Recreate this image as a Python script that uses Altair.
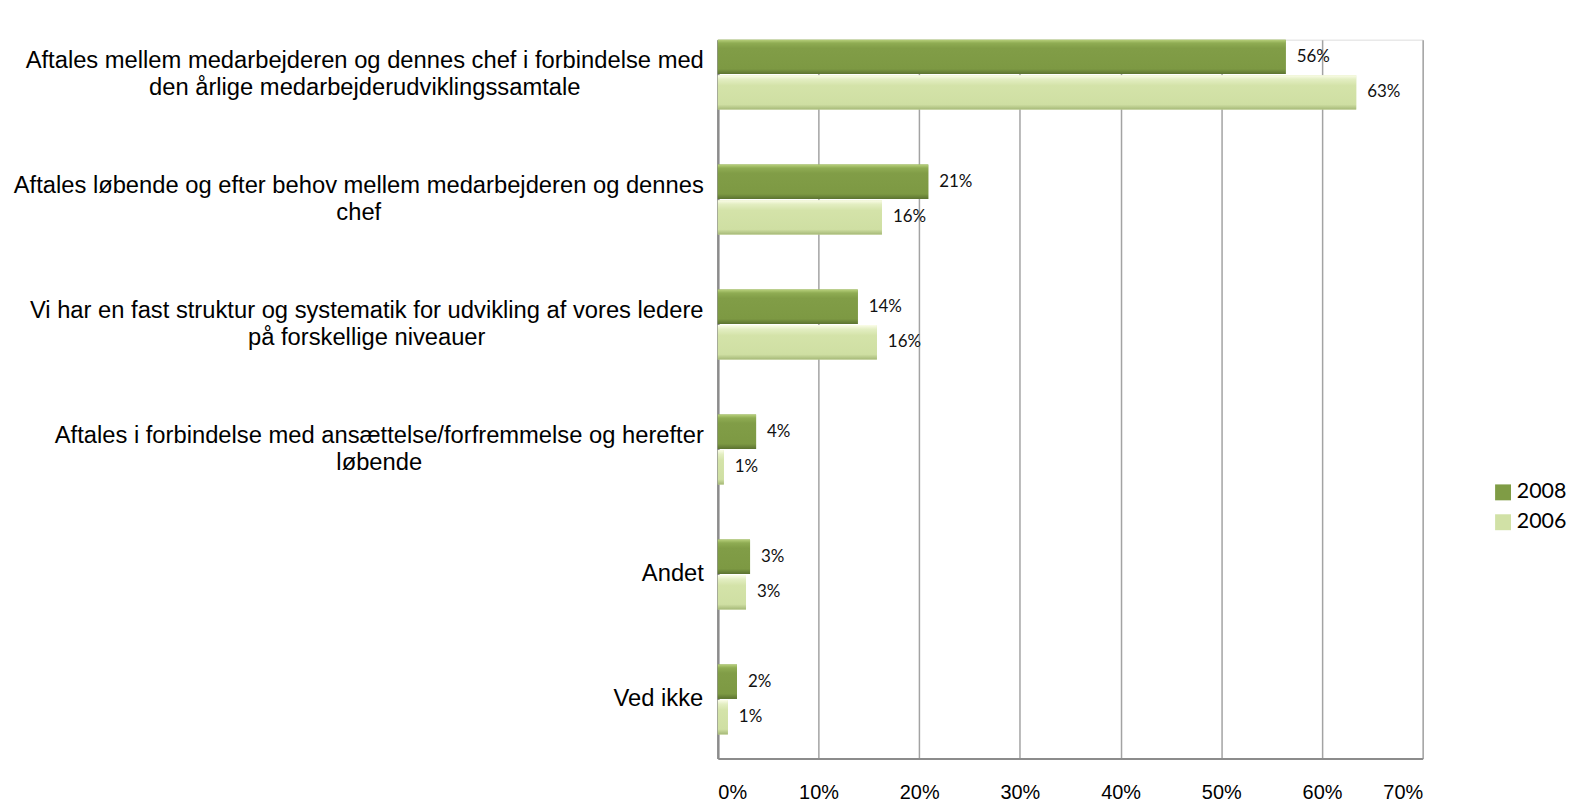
import altair as alt
import pandas as pd

# ---- data ----
categories = [
    "Aftales mellem medarbejderen og dennes chef i forbindelse med\nden årlige medarbejderudviklingssamtale",
    "Aftales løbende og efter behov mellem medarbejderen og dennes\nchef",
    "Vi har en fast struktur og systematik for udvikling af vores ledere\npå forskellige niveauer",
    "Aftales i forbindelse med ansættelse/forfremmelse og herefter\nløbende",
    "Andet",
    "Ved ikke",
]
series = ["2008", "2006"]
values_2008 = [56.4, 20.9, 13.9, 3.8, 3.2, 1.9]
values_2006 = [63.4, 16.3, 15.8, 0.6, 2.8, 1.0]
x_ticks = [0, 10, 20, 30, 40, 50, 60, 70]

# ---- styling ----
PLOT_W = 708
PLOT_H = 722
CAT_FS = 23.85
PX_PER_UNIT = PLOT_W / 70.0
LABEL_GAP_PX = 14
LINE_H = 27

# Arial / Liberation Sans advance widths (per 1000 em) for centering wrapped labels
ARIAL = {" ": 278, "/": 278, "A": 667, "V": 667, "a": 556, "b": 556, "c": 500, "d": 556,
         "e": 556, "f": 278, "g": 556, "h": 556, "i": 222, "j": 222, "k": 500, "l": 222,
         "m": 833, "n": 556, "o": 556, "p": 556, "r": 333, "s": 500, "t": 278, "u": 556,
         "v": 500, "y": 500, "å": 556, "ø": 611, "æ": 889}


def text_w(s):
    return sum(ARIAL.get(ch, 556) for ch in s) * CAT_FS / 1000.0


rows = []
for c, a, b in zip(categories, values_2008, values_2006):
    rows.append({"cat": c, "series": "2008", "v": a})
    rows.append({"cat": c, "series": "2006", "v": b})
df = pd.DataFrame(rows)

lab_rows = []
for c in categories:
    lines = c.split("\n")
    w = max(text_w(line) for line in lines)
    lab_rows.append({"cat": c, "nlines": len(lines),
                     "lx": (-LABEL_GAP_PX - w / 2.0) / PX_PER_UNIT})
df_lab = pd.DataFrame(lab_rows)

xscale = alt.Scale(domain=[0, 70], nice=False, zero=True)
yscale = alt.Scale(domain=categories, paddingInner=0.44, paddingOuter=0.096, align=0)
yoff_scale = alt.Scale(domain=series, paddingInner=0.03)

x_axis = alt.Axis(values=x_ticks, labelExpr="datum.value + '%'", title=None, ticks=False,
                  grid=True, gridColor="#a3a3a3", gridWidth=1.5, domain=True,
                  domainColor="#8c8c8c", domainWidth=2, labelFont="Liberation Sans",
                  labelFontSize=20, labelColor="#000000", labelPadding=24)
y_axis = alt.Axis(labels=False, ticks=False, title=None, domain=True, domainColor="#8c8c8c",
                  domainWidth=2.5, grid=False)

X = alt.X("v:Q", scale=xscale, axis=x_axis)
Y = alt.Y("cat:N", scale=yscale, axis=y_axis, sort=categories)
YO = alt.YOffset("series:N", scale=yoff_scale, sort=series)

base = alt.Chart(df)

legend_bars = base.mark_bar().encode(
    x=X, y=Y, yOffset=YO,
    color=alt.Color("series:N", sort=series,
                    scale=alt.Scale(domain=series, range=["#7f9c45", "#d1e1a6"]),
                    legend=alt.Legend(orient="none", legendX=778, legendY=444, title=None,
                                      symbolType="square", symbolSize=256,
                                      symbolStrokeWidth=0, labelFont="Lato",
                                      labelFontSize=21.5, labelColor="#000000",
                                      labelOffset=3, rowPadding=7, padding=0)),
)

dark_grad = alt.Gradient(gradient="linear", x1=0, x2=0, y1=0, y2=1, stops=[
    alt.GradientStop(color="#b8d07c", offset=0),
    alt.GradientStop(color="#8fac53", offset=0.1),
    alt.GradientStop(color="#819d47", offset=0.25),
    alt.GradientStop(color="#7d9943", offset=0.85),
    alt.GradientStop(color="#5b7230", offset=1),
])
light_grad = alt.Gradient(gradient="linear", x1=0, x2=0, y1=0, y2=1, stops=[
    alt.GradientStop(color="#fbfde9", offset=0),
    alt.GradientStop(color="#e3eec2", offset=0.12),
    alt.GradientStop(color="#d4e3a9", offset=0.3),
    alt.GradientStop(color="#cfdfa3", offset=0.85),
    alt.GradientStop(color="#a5b877", offset=1),
])

bars_2008 = base.transform_filter(alt.datum.series == "2008").mark_bar(color=dark_grad).encode(
    x=X, y=Y, yOffset=YO)
bars_2006 = base.transform_filter(alt.datum.series == "2006").mark_bar(color=light_grad).encode(
    x=X, y=Y, yOffset=YO)

value_text = base.transform_calculate(
    lbl="format(datum.v, '.0f') + '%'"
).mark_text(align="left", baseline="middle", dx=11, font="Lato", fontSize=17,
            color="#111111").encode(x=X, y=Y, yOffset=YO, text="lbl:N")

lab_base = alt.Chart(df_lab)
cat_text_2 = lab_base.transform_filter(alt.datum.nlines == 2).mark_text(
    align="center", baseline="middle", lineBreak="\n", lineHeight=LINE_H, dy=-LINE_H / 2,
    font="Liberation Sans", fontSize=CAT_FS, color="#000000"
).encode(x=alt.X("lx:Q", scale=xscale, axis=x_axis), y=Y, text="cat:N")
cat_text_1 = lab_base.transform_filter(alt.datum.nlines == 1).mark_text(
    align="center", baseline="middle",
    font="Liberation Sans", fontSize=CAT_FS, color="#000000"
).encode(x=alt.X("lx:Q", scale=xscale, axis=x_axis), y=Y, text="cat:N")

chart = alt.layer(legend_bars, bars_2008, bars_2006, value_text, cat_text_2, cat_text_1).properties(
    width=PLOT_W, height=PLOT_H,
    autosize=alt.AutoSizeParams(type="none"),
    padding={"left": 713, "top": 30, "right": 151, "bottom": 45},
).configure_view(stroke=None).configure(background="#ffffff")

chart.save("out.html", embed_options={"renderer": "svg", "actions": False})
